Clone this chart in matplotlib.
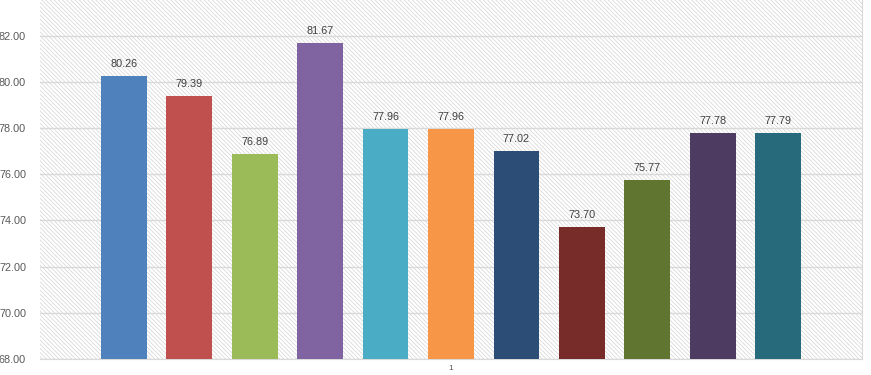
"""
11개 항목 점수 막대 차트 (엑셀 스타일 재현)
"""

import matplotlib.pyplot as plt
from matplotlib.patches import Rectangle
import numpy as np

plt.rcParams['font.family'] = ['Liberation Sans', 'DejaVu Sans']
plt.rcParams['hatch.linewidth'] = 0.5
plt.rcParams['hatch.color'] = '#d3d3d3'

# 데이터
series_values = [80.26, 79.39, 76.89, 81.67, 77.96, 77.96, 77.02, 73.70, 75.77, 77.78, 77.79]
bar_colors = ['#4F81BD', '#C0504D', '#9BBB59', '#8064A2', '#4BACC6', '#F79646',
              '#2C4D75', '#772C2A', '#5F7530', '#4D3B62', '#276A7C']
y_ticks = [68, 70, 72, 74, 76, 78, 80, 82]
category_label = '1'


def create_chart():
    fig = plt.figure(figsize=(8.71, 3.75), dpi=100)
    ax = fig.add_axes([40 / 871, 1 - 359 / 375, 822 / 871, 359 / 375])

    # 배경 빗금
    ax.add_patch(Rectangle((0, 0), 1, 1, transform=ax.transAxes, facecolor='white',
                           edgecolor='#d3d3d3', hatch='\\' * 8, linewidth=0, zorder=0))

    x = np.arange(len(series_values))
    width = 0.7
    bars = ax.bar(x, [v - 68 for v in series_values], bottom=68, width=width,
                  color=bar_colors, zorder=3)

    for bar, val in zip(bars, series_values):
        ax.annotate(f'{val:.2f}', (bar.get_x() + bar.get_width() / 2, val),
                    xytext=(0, 5), textcoords='offset points', ha='center', va='bottom',
                    fontsize=7.8, color='#404040', zorder=4)

    ax.set_ylim(68, 83.55)
    gap = 61 / 65.45
    ax.set_xlim(-width / 2 - gap, len(series_values) - 1 + width / 2 + gap)

    ax.set_yticks(y_ticks)
    ax.set_yticklabels([f'{t:.2f}' for t in y_ticks], fontsize=7.8, color='#595959')
    ax.yaxis.grid(True, color='#d9d9d9', linewidth=1, zorder=1)
    ax.set_axisbelow(True)

    ax.set_xticks([(len(series_values) - 1) / 2])
    ax.set_xticklabels([category_label], fontsize=6, color='#595959')
    ax.tick_params(axis='both', length=0)
    ax.tick_params(axis='y', pad=10)
    ax.tick_params(axis='x', pad=4)

    for side in ['top', 'left']:
        ax.spines[side].set_visible(False)
    ax.spines['right'].set_color('#d9d9d9')
    ax.spines['bottom'].set_color('#d9d9d9')

    fig.savefig('out.png', dpi=100)


if __name__ == "__main__":
    create_chart()
